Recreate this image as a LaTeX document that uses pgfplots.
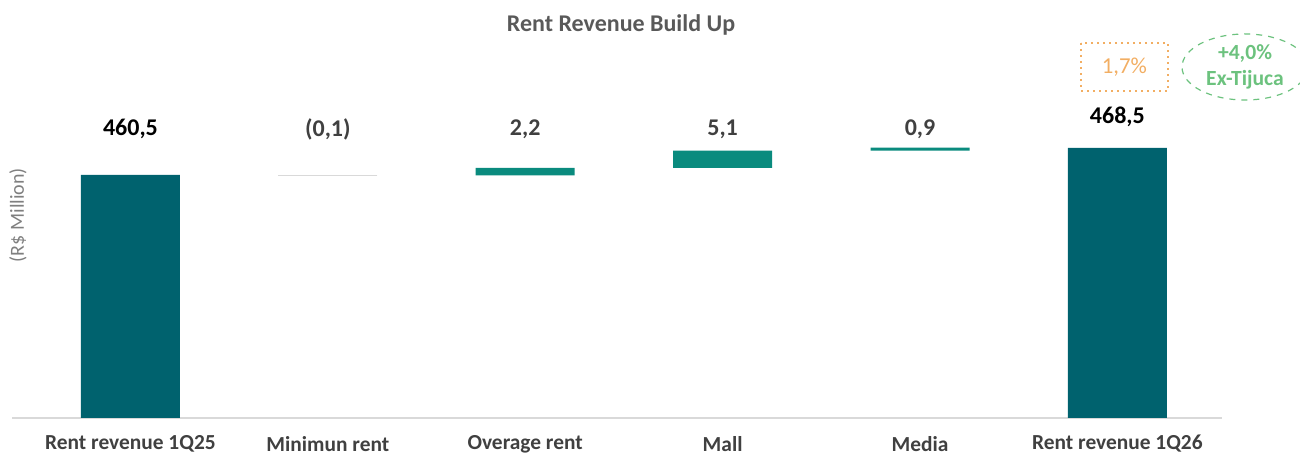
\documentclass[border=0pt]{standalone}
\usepackage{fontspec}
\setmainfont{Carlito}
\usepackage{pgfplots}
\pgfplotsset{compat=1.18}

\definecolor{totalbar}{HTML}{00626E}
\definecolor{incbar}{HTML}{0A8B7E}
\definecolor{axisgray}{HTML}{D9D9D9}
\definecolor{txtgray}{HTML}{404040}
\definecolor{titlegray}{HTML}{595959}
\definecolor{lblgray}{HTML}{7F7F7F}
\definecolor{boxorange}{HTML}{F2AE63}
\definecolor{ovalgreen}{HTML}{6CC27E}

% waterfall: invisible base + visible part
\pgfplotstableread{
x base total inc
0 0     460.5 0
1 460.4 0     0
2 460.4 0     2.2
3 462.6 0     5.1
4 467.7 0     0.9
5 0     468.5 0
}\waterfall

\pgfplotstableread{
x y lbl
1 474.1 (0,1)
2 474.1 2,2
3 474.1 5,1
4 474.1 0,9
}\deltalabels

\pgfplotstableread{
x y lbl
0 474.1 460,5
5 477.7 468,5
}\totallabels

\pgfplotsset{
  common/.style={
    at={(6pt,18.5pt)}, anchor=south west,
    scale only axis, width=605pt, height=189pt,
    xmin=-0.6, xmax=5.53, ymin=388.5, ymax=500.5,
  },
}

\begin{document}
\begin{tikzpicture}
\useasboundingbox (0,0) rectangle (650pt,227.5pt);

\begin{axis}[
  common,
  ybar stacked,
  bar width=49.5pt,
  axis x line*=bottom,
  axis y line=none,
  axis line style={draw=axisgray, line width=1pt},
  major tick length=0pt,
  xtick={0,1,2,3,4,5},
  xticklabels={Rent revenue 1Q25, Minimun rent, Overage rent, Mall, Media, Rent revenue 1Q26},
  xticklabel style={anchor=center, yshift=-13pt, font=\fontsize{10.7}{12}\selectfont\bfseries, text=txtgray},
]
\addplot[draw=none, fill=none] table[x=x, y=base] {\waterfall};
\addplot[draw=none, fill=totalbar] table[x=x, y=total] {\waterfall};
\addplot[draw=none, fill=incbar] table[x=x, y=inc] {\waterfall};
\end{axis}

\begin{axis}[common, hide axis]
% the small negative step, drawn as a thin line
\addplot[only marks, mark=-, mark size=24.75pt, mark options={draw=axisgray, line width=0.6pt}]
  coordinates {(1,460.45)};
\addplot[only marks, mark=none, nodes near coords, point meta=explicit symbolic,
  every node near coord/.style={anchor=center, font=\fontsize{12}{14}\selectfont\bfseries, text=txtgray}]
  table[x=x, y=y, meta=lbl] {\deltalabels};
\addplot[only marks, mark=none, nodes near coords, point meta=explicit symbolic,
  every node near coord/.style={anchor=center, font=\fontsize{12}{14}\selectfont\bfseries, text=black}]
  table[x=x, y=y, meta=lbl] {\totallabels};
\end{axis}

% title and y label
\node[font=\fontsize{12}{14}\selectfont\bfseries, text=titlegray] at (310.5pt,215pt) {Rent Revenue Build Up};
\node[rotate=90, font=\fontsize{10}{12}\selectfont, text=lblgray] at (9pt,120pt) {(R\$ Million)};

% annotations
\draw[boxorange, line width=1pt, dotted] (540.5pt,206pt) rectangle (584pt,182pt);
\node[font=\fontsize{11.4}{13}\selectfont, text=boxorange] at (562.2pt,194pt) {1,7\%};
\draw[ovalgreen, line width=0.6pt, dashed] (622.5pt,194pt) ellipse (31.5pt and 16.5pt);
\node[font=\fontsize{10.8}{13}\selectfont\bfseries, text=ovalgreen, align=center] at (622.5pt,194pt) {+4,0\%\\Ex-Tijuca};
\end{tikzpicture}
\end{document}
